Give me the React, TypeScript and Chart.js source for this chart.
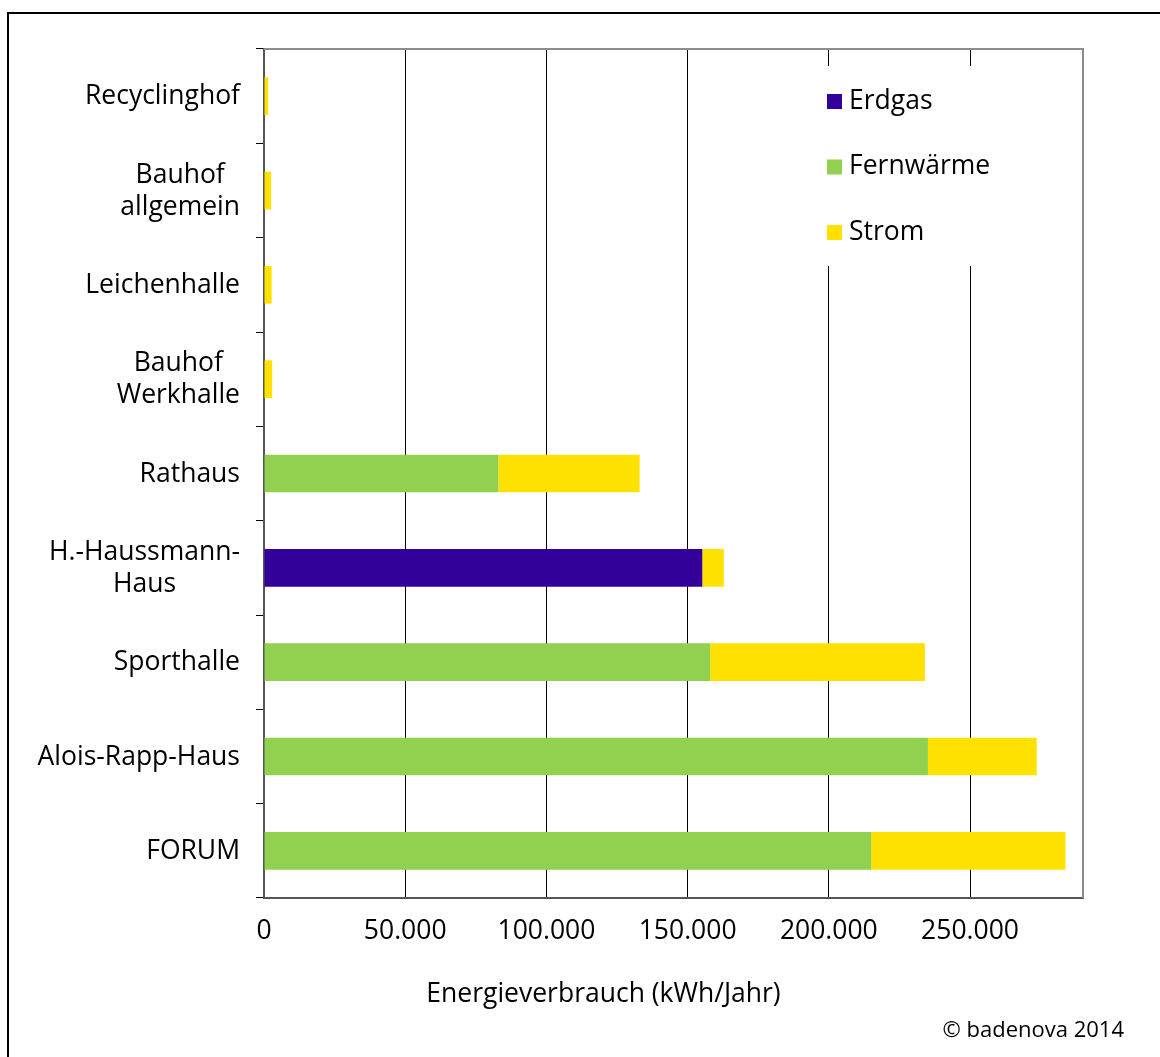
import React, { useEffect, useRef } from "react";
import { Chart, registerables } from "chart.js";

Chart.register(...registerables);

const FONT = '"Open Sans", "Noto Sans", sans-serif';
const TEXT_SIZE = 26.5;

// Buildings, top to bottom; multi-line names are given as arrays of lines
const categories: string[][] = [
  ["Recyclinghof"],
  ["Bauhof", "allgemein"],
  ["Leichenhalle"],
  ["Bauhof", "Werkhalle"],
  ["Rathaus"],
  ["H.-Haussmann-", "Haus"],
  ["Sporthalle"],
  ["Alois-Rapp-Haus"],
  ["FORUM"],
];

// Annual energy use in kWh per building and carrier
const erdgas = [0, 0, 0, 0, 0, 155200, 0, 0, 0];
const fernwaerme = [0, 0, 0, 0, 83000, 0, 158000, 235100, 215000];
const strom = [1500, 2500, 2700, 2900, 50000, 7600, 76000, 38500, 68800];

const seriesNames = ["Erdgas", "Fernwärme", "Strom"];
const seriesColors = ["#330099", "#92D050", "#FFE100"];

// Value axis range and tick positions
const xMax = 290000;
const xTickValues = [0, 50000, 100000, 150000, 200000, 250000];

const axisTitle = "Energieverbrauch (kWh/Jahr)";
const credit = "© badenova 2014";

const formatDe = (v: number) =>
  String(Math.round(v)).replace(/\B(?=(\d{3})+(?!\d))/g, ".");

// Category names: lines centred on each other, block right-aligned next to the axis
const categoryLabels = {
  id: "categoryLabels",
  afterDraw(chart: any) {
    const ctx = chart.ctx;
    const yScale = chart.scales.y;
    const rightEdge = chart.chartArea.left - 24;
    ctx.save();
    ctx.font = `${TEXT_SIZE}px ${FONT}`;
    ctx.fillStyle = "#000";
    ctx.textAlign = "center";
    ctx.textBaseline = "alphabetic";
    categories.forEach((lines, i) => {
      const cy = yScale.getPixelForValue(i);
      const w = Math.max(...lines.map((l) => ctx.measureText(l).width));
      const cx = rightEdge - w / 2;
      const n = lines.length;
      lines.forEach((line, k) => {
        ctx.fillText(line, cx, cy + 8 + (k - (n - 1) / 2) * 32);
      });
    });
    ctx.restore();
  },
};

// Legend panel inside the plot, with a white backing over the grid
const insideLegend = {
  id: "insideLegend",
  afterDatasetsDraw(chart: any) {
    const ctx = chart.ctx;
    const { left, top } = chart.chartArea;
    ctx.save();
    ctx.fillStyle = "#fff";
    ctx.fillRect(left + 540, top + 17, 205, 200);
    ctx.font = `${TEXT_SIZE}px ${FONT}`;
    ctx.textAlign = "left";
    ctx.textBaseline = "alphabetic";
    seriesNames.forEach((name, i) => {
      const sy = top + 45 + i * 65.5;
      ctx.fillStyle = seriesColors[i];
      ctx.fillRect(left + 563, sy, 15, 15);
      ctx.fillStyle = "#000";
      ctx.fillText(name, left + 585, sy + 14.5);
    });
    ctx.restore();
  },
};

// Light frame on the top and right of the plot, axis title and credit line
const frameAndTitles = {
  id: "frameAndTitles",
  afterDraw(chart: any) {
    const ctx = chart.ctx;
    const { left, top, right, bottom } = chart.chartArea;
    ctx.save();
    ctx.strokeStyle = "#8c8c8c";
    ctx.lineWidth = 2;
    ctx.beginPath();
    ctx.moveTo(left, top);
    ctx.lineTo(right, top);
    ctx.lineTo(right, bottom);
    ctx.stroke();

    ctx.fillStyle = "#000";
    ctx.textBaseline = "alphabetic";
    ctx.font = `${TEXT_SIZE}px ${FONT}`;
    ctx.textAlign = "center";
    ctx.fillText(axisTitle, left + 339.5, bottom + 104);

    ctx.font = `22px ${FONT}`;
    ctx.textAlign = "right";
    ctx.fillText(credit, chart.width - 36, bottom + 139);
    ctx.restore();
  },
};

function EnergyChart() {
  const canvasRef = useRef<HTMLCanvasElement | null>(null);

  useEffect(() => {
    if (!canvasRef.current) return;
    const chart = new Chart(canvasRef.current, {
      type: "bar",
      data: {
        labels: categories,
        datasets: [erdgas, fernwaerme, strom].map((values, i) => ({
          label: seriesNames[i],
          data: values,
          backgroundColor: seriesColors[i],
          borderWidth: 0,
          barPercentage: 0.4,
          categoryPercentage: 1,
        })),
      },
      options: {
        indexAxis: "y",
        responsive: false,
        animation: false,
        devicePixelRatio: 1,
        layout: { padding: { top: 49, right: 77, left: 0, bottom: 0 } },
        plugins: {
          legend: { display: false },
          tooltip: { enabled: false },
        },
        scales: {
          x: {
            stacked: true,
            min: 0,
            max: xMax,
            grid: {
              color: "#000",
              lineWidth: 1,
              drawTicks: false,
            },
            border: { display: true, color: "#555", width: 2 },
            ticks: {
              padding: 18,
              color: "#000",
              font: { family: FONT, size: TEXT_SIZE },
              callback: (v: any) => formatDe(Number(v)),
            },
            afterBuildTicks: (scale: any) => {
              scale.ticks = xTickValues.map((value) => ({ value }));
            },
            afterFit: (scale: any) => {
              scale.height = 159;
            },
          },
          y: {
            stacked: true,
            grid: {
              display: true,
              drawOnChartArea: false,
              drawTicks: true,
              tickLength: 8,
              color: "#000",
              lineWidth: 1,
            },
            border: { display: true, color: "#555", width: 2 },
            ticks: { display: false },
            afterFit: (scale: any) => {
              scale.width = 264;
            },
          },
        },
      },
      plugins: [categoryLabels, insideLegend, frameAndTitles],
    });
    return () => chart.destroy();
  }, []);

  return (
    <canvas
      ref={canvasRef}
      width={1160}
      height={1057}
      style={{ position: "absolute", left: 0, top: 0, display: "block" }}
    />
  );
}

export default function App() {
  return (
    <div
      style={{
        position: "fixed",
        left: 0,
        top: 0,
        width: 1160,
        height: 1057,
        overflow: "hidden",
        background: "#fff",
      }}
    >
      <div
        style={{
          position: "absolute",
          left: 7,
          top: 12,
          width: 1220,
          height: 1200,
          border: "2px solid #000",
        }}
      />
      <EnergyChart />
    </div>
  );
}
